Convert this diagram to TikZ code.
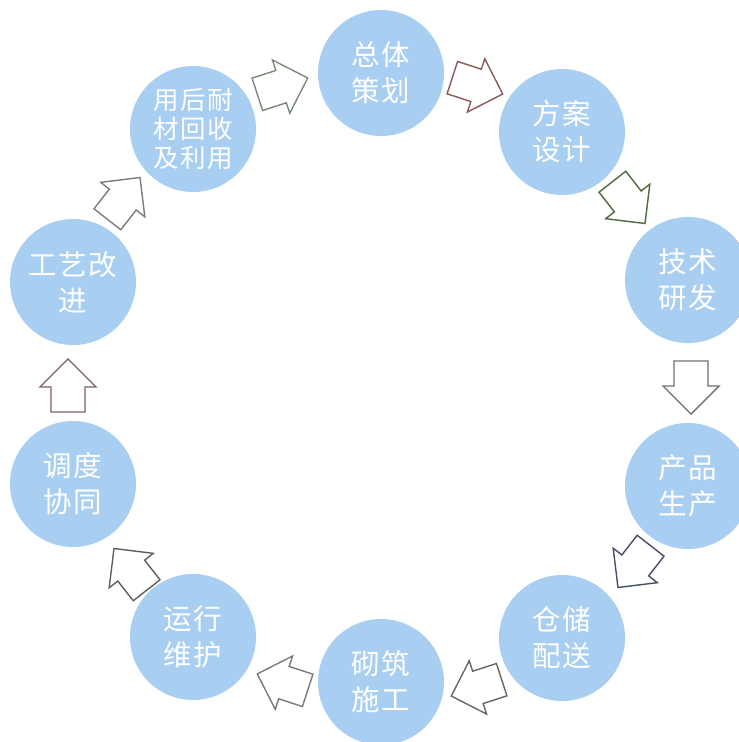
\documentclass[tikz,border=0pt]{standalone}
\usepackage{fontspec}
\newfontfamily\cjk{Noto Sans CJK SC}[LetterSpace=5]
\definecolor{cfill}{HTML}{A8CEF2}
\definecolor{ac1}{HTML}{7A8A78}
\definecolor{ac2}{HTML}{8A5A58}
\definecolor{ac3}{HTML}{4E6A3C}
\definecolor{ac4}{HTML}{707070}
\definecolor{ac5}{HTML}{454E66}
\definecolor{ac6}{HTML}{666666}
\definecolor{ac7}{HTML}{7A7A7A}
\definecolor{ac8}{HTML}{5E5E5E}
\definecolor{ac9}{HTML}{7E5E6C}
\definecolor{ac10}{HTML}{7C7C7C}
\tikzset{
  stage/.style={circle, fill=cfill, minimum size=126pt, inner sep=0pt, text=white, align=center,
    font=\cjk\fontsize{28.5}{36}\selectfont, xshift=1pt},
  stagesmall/.style={stage, font=\cjk\fontsize{25.5}{29}\selectfont},
  pics/barrow/.style={code={
    \draw[#1, line width=1.4pt, fill=white, line join=miter]
      (-27,17) -- (-2,17) -- (-2,28) -- (26,0) -- (-2,-28) -- (-2,-17) -- (-27,-17) -- cycle;
  }}
}
\begin{document}
\begin{tikzpicture}[x=1pt,y=1pt]
\useasboundingbox (0,0) rectangle (739,-742);
\begin{scope}
\clip (0,0) rectangle (739,-742);
\node[stage] (s1) at (380,-73) {总体\\策划};
\node[stage] (s2) at (561,-132) {方案\\设计};
\node[stage] (s3) at (687,-280) {技术\\研发};
\node[stage] (s4) at (687,-486) {产品\\生产};
\node[stage] (s5) at (561,-638) {仓储\\配送};
\node[stage] (s6) at (380,-682) {砌筑\\施工};
\node[stage] (s7) at (192,-637) {运行\\维护};
\node[stage] (s8) at (72,-484) {调度\\协同};
\node[stage] (s9) at (72,-282) {工艺改\\进};
\node[stagesmall] (s10) at (192,-129) {用后耐\\材回收\\及利用};

\pic (a1) [rotate=18] at (283,-86) {barrow=ac1};
\pic (a2) [rotate=-18] at (478,-86) {barrow=ac2};
\pic (a3) [rotate=-52] at (629,-203) {barrow=ac3};
\pic (a4) [rotate=-90] at (691,-388) {barrow=ac4};
\pic (a5) [rotate=-128] at (634,-567) {barrow=ac5};
\pic (a6) [rotate=-162] at (476,-688) {barrow=ac6};
\pic (a7) [rotate=162] at (282,-682) {barrow=ac7};
\pic (a8) [rotate=128] at (130,-569) {barrow=ac8};
\pic (a9) [rotate=90] at (68,-385) {barrow=ac9};
\pic (a10) [rotate=52] at (124,-198) {barrow=ac10};
\end{scope}
\end{tikzpicture}
\end{document}
